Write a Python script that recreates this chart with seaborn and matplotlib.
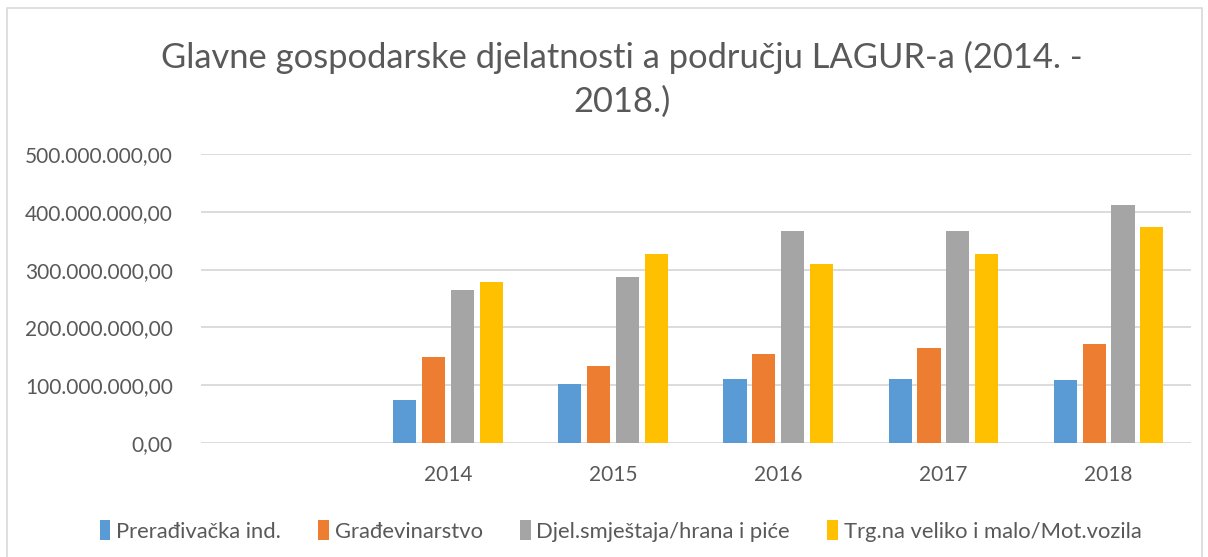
import pandas as pd
import matplotlib.pyplot as plt
import seaborn as sns
from matplotlib.patches import Rectangle
from matplotlib.ticker import FuncFormatter

# Data (values in kn)
years = ["", "2014", "2015", "2016", "2017", "2018"]
series = ["Prerađivačka ind.", "Građevinarstvo",
          "Djel.smještaja/hrana i piće", "Trg.na veliko i malo/Mot.vozila"]
preradivacka = [75e6, 102e6, 110e6, 111e6, 109e6]
gradevinarstvo = [149e6, 133e6, 154e6, 165e6, 172e6]
smjestaj = [264e6, 287e6, 367e6, 367e6, 412e6]
trgovina = [279e6, 328e6, 310e6, 328e6, 374e6]
colors = ["#5b9bd5", "#ed7d31", "#a5a5a5", "#ffc000"]

rows = []
for name, vals in zip(series, [preradivacka, gradevinarstvo, smjestaj, trgovina]):
    for y, v in zip(years[1:], vals):
        rows.append({"Godina": y, "Djelatnost": name, "Iznos": v})
df = pd.DataFrame(rows)

sns.set_style("white")
plt.rcParams['font.family'] = ['Lato', 'DejaVu Sans']

fig = plt.figure(figsize=(12.08, 5.57), dpi=100)
ax = fig.add_axes([0.166, 0.205, 0.82, 0.518])

sns.barplot(data=df, x="Godina", y="Iznos", hue="Djelatnost", order=years,
            hue_order=series, palette=colors, saturation=1, width=0.7, gap=0.2,
            linewidth=0, ax=ax)

ax.set_ylim(0, 500e6)
ax.set_yticks([0, 100e6, 200e6, 300e6, 400e6, 500e6])
ax.yaxis.set_major_formatter(FuncFormatter(
    lambda v, p: f"{v:,.2f}".replace(",", "X").replace(".", ",").replace("X", ".")))
ax.grid(axis="y", color="#d9d9d9", linewidth=1.3)
ax.set_axisbelow(True)
for s in ax.spines.values():
    s.set_visible(False)
ax.set_xlabel("")
ax.set_ylabel("")
ax.tick_params(axis="both", length=0, labelsize=15, colors="#595959", pad=16)
ax.tick_params(axis="y", pad=20)

ax.legend(loc="upper center", bbox_to_anchor=(0.424, -0.2), ncol=4, frameon=False,
          fontsize=15.8, labelcolor="#595959", handlelength=0.5, handleheight=1.0,
          handletextpad=0.25, columnspacing=1.7)

fig.text(0.515, 0.896, "Glavne gospodarske djelatnosti a području LAGUR-a (2014. -",
         ha="center", va="center", fontsize=24.8, color="#595959")
fig.text(0.515, 0.817, "2018.)", ha="center", va="center", fontsize=24.8, color="#595959")

fig.patches.append(Rectangle((0.006, -0.01), 0.989, 0.996, transform=fig.transFigure,
                             fill=False, edgecolor="#d9d9d9", linewidth=1.2))

fig.savefig("out.png", dpi=100)
